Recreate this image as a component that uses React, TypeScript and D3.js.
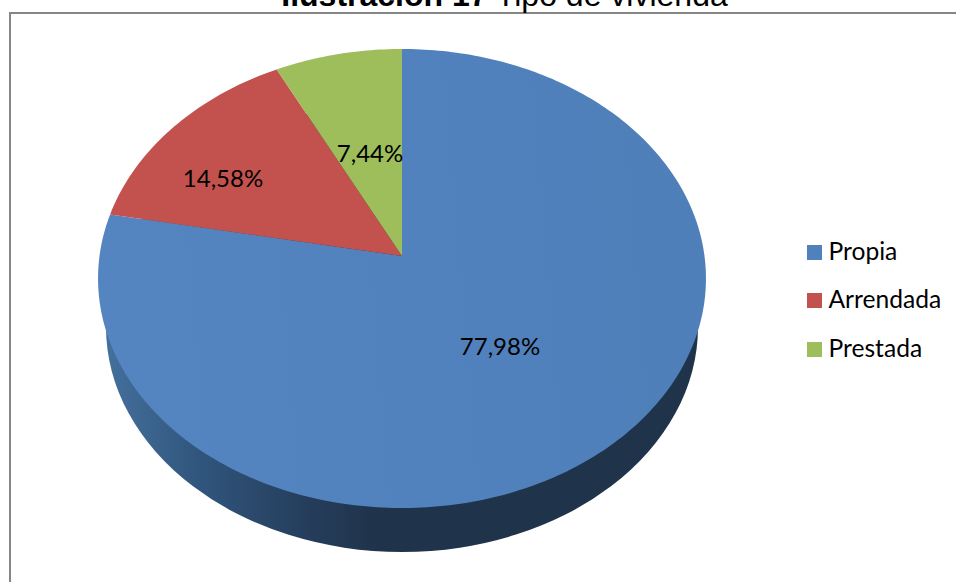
import React from "react";
import * as d3 from "d3";

const categories = ["Propia", "Arrendada", "Prestada"];
const values = [77.98, 14.58, 7.44];
const valueLabels = ["77,98%", "14,58%", "7,44%"];
const colors = ["#4f81bd", "#c3524f", "#9ebd5b"];
const labelPos: [number, number][] = [[500, 346.5], [223, 178.5], [370, 153.5]];
const legendY = [252.5, 300.5, 349.5];

const W = 956, H = 582;
const CX = 402, CY = 256;
const K = 0.098, S = 227.3, R = 302.5;

// Perspective projection of the unit disc onto the page.
function project(angle: number, r = 1): [number, number] {
  const u = r * Math.sin(angle), v = r * Math.cos(angle);
  const w = 1 + K * v;
  return [CX + (R * u) / w, CY - (S * v) / w];
}

const pieGen = d3.pie<number>().sort(null).value((d) => d);
const arcs = pieGen(values);
const line = d3.line();

function slicePath(a0: number, a1: number) {
  const n = Math.max(8, Math.ceil((a1 - a0) * 60));
  const pts: [number, number][] = [[CX, CY]];
  d3.range(n + 1).forEach((i) => pts.push(project(a0 + ((a1 - a0) * i) / n)));
  return line(pts) + "Z";
}

const ell = (cy: number, rx: number, ry: number) =>
  `M${CX - rx},${cy}A${rx},${ry} 0 1 0 ${CX + rx},${cy}A${rx},${ry} 0 1 0 ${CX - rx},${cy}Z`;

export default function App() {
  return (
    <svg
      width={W}
      height={H}
      viewBox={`0 0 ${W} ${H}`}
      style={{ position: "absolute", left: 0, top: 0, background: "#fff" }}
    >
      <defs>
        <linearGradient id="side" gradientUnits="userSpaceOnUse" x1={98} x2={706} y1={0} y2={0}>
          <stop offset="0" stopColor="#46729f" />
          <stop offset="0.17" stopColor="#30557c" />
          <stop offset="0.33" stopColor="#263f5e" />
          <stop offset="0.46" stopColor="#1f334a" />
          <stop offset="1" stopColor="#1f334a" />
        </linearGradient>
        <linearGradient id="top" gradientUnits="userSpaceOnUse" x1={98} x2={706} y1={300} y2={250}>
          <stop offset="0" stopColor="#5585c1" />
          <stop offset="1" stopColor="#4e7fb9" />
        </linearGradient>
      </defs>
      <rect x={10} y={13} width={W} height={H} fill="#fff" stroke="#868686" strokeWidth={2} />
      <path d={ell(327, 296, 225)} fill="url(#side)" />
      {arcs.map((a, i) => (
        <path
          key={categories[i]}
          d={slicePath(a.startAngle, a.endAngle)}
          fill={i === 0 ? "url(#top)" : colors[i]}
        />
      ))}
      {valueLabels.map((t, i) => (
        <text
          key={t}
          x={labelPos[i][0]}
          y={labelPos[i][1]}
          dy="0.35em"
          textAnchor="middle"
          fontFamily="Lato, 'Open Sans', sans-serif"
          fontSize={24}
          fill="#000"
        >
          {t}
        </text>
      ))}
      {categories.map((c, i) => (
        <g key={c}>
          <rect x={807} y={legendY[i] - 7.5} width={15} height={15} fill={colors[i]} />
          <text
            x={828.5}
            y={legendY[i] - 1}
            dy="0.35em"
            fontFamily="Lato, 'Open Sans', sans-serif"
            fontSize={24.6}
            fill="#000"
          >
            {c}
          </text>
        </g>
      ))}
      <text x={504.5} y={6} textAnchor="middle" fontFamily="'Liberation Sans', Arial, sans-serif" fontSize={32} fill="#000">
        <tspan fontWeight="bold">Ilustración 17</tspan>
        <tspan> Tipo de vivienda</tspan>
      </text>
    </svg>
  );
}
